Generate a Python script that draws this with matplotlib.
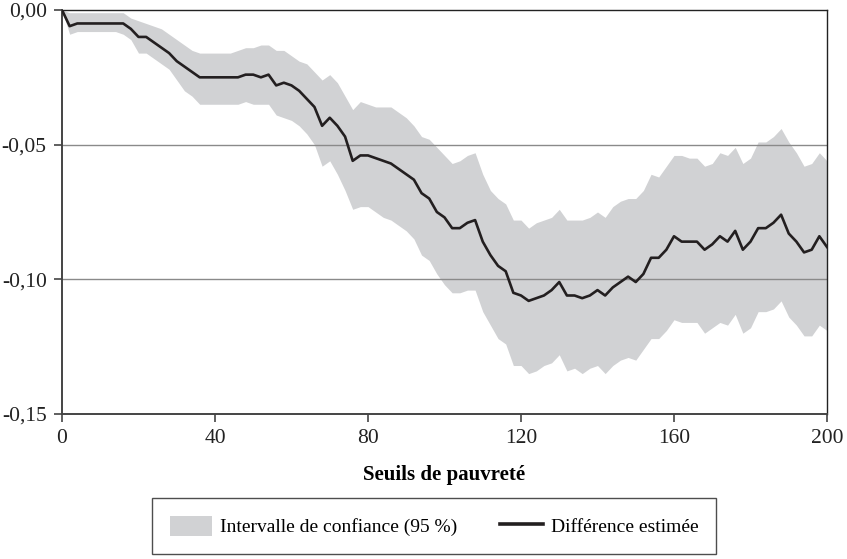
"""
Différence estimée et intervalle de confiance (95 %) selon le seuil de pauvreté.
"""

import matplotlib.pyplot as plt
from matplotlib.patches import Patch
from matplotlib.lines import Line2D

seuils = list(range(0, 201, 2))

difference = [
    0.000, -0.006, -0.005, -0.005, -0.005, -0.005, -0.005, -0.005, -0.005, -0.007,
    -0.010, -0.010, -0.012, -0.014, -0.016, -0.019, -0.021, -0.023, -0.025, -0.025,
    -0.025, -0.025, -0.025, -0.025, -0.024, -0.024, -0.025, -0.024, -0.028, -0.027,
    -0.028, -0.030, -0.033, -0.036, -0.043, -0.040, -0.043, -0.047, -0.056, -0.054,
    -0.054, -0.055, -0.056, -0.057, -0.059, -0.061, -0.063, -0.068, -0.070, -0.075,
    -0.077, -0.081, -0.081, -0.079, -0.078, -0.086, -0.091, -0.095, -0.097, -0.105,
    -0.106, -0.108, -0.107, -0.106, -0.104, -0.101, -0.106, -0.106, -0.107, -0.106,
    -0.104, -0.106, -0.103, -0.101, -0.099, -0.101, -0.098, -0.092, -0.092, -0.089,
    -0.084, -0.086, -0.086, -0.086, -0.089, -0.087, -0.084, -0.086, -0.082, -0.089,
    -0.086, -0.081, -0.081, -0.079, -0.076, -0.083, -0.086, -0.090, -0.089, -0.084,
    -0.088,
]

borne_sup = [
    0.000, -0.001, -0.001, -0.001, -0.001, -0.001, -0.001, -0.001, -0.001, -0.003,
    -0.004, -0.005, -0.006, -0.007, -0.009, -0.011, -0.013, -0.015, -0.016, -0.016,
    -0.016, -0.016, -0.016, -0.015, -0.014, -0.014, -0.013, -0.013, -0.015, -0.015,
    -0.017, -0.019, -0.020, -0.023, -0.026, -0.024, -0.027, -0.032, -0.037, -0.034,
    -0.035, -0.036, -0.036, -0.036, -0.038, -0.040, -0.043, -0.047, -0.048, -0.051,
    -0.054, -0.057, -0.056, -0.054, -0.053, -0.061, -0.067, -0.070, -0.072, -0.078,
    -0.078, -0.081, -0.079, -0.078, -0.077, -0.074, -0.078, -0.078, -0.078, -0.077,
    -0.075, -0.077, -0.073, -0.071, -0.070, -0.070, -0.067, -0.061, -0.062, -0.058,
    -0.054, -0.054, -0.055, -0.055, -0.058, -0.057, -0.053, -0.054, -0.051, -0.057,
    -0.055, -0.049, -0.049, -0.047, -0.044, -0.049, -0.053, -0.058, -0.057, -0.053,
    -0.056,
]

borne_inf = [
    0.000, -0.009, -0.008, -0.008, -0.008, -0.008, -0.008, -0.008, -0.009, -0.011,
    -0.016, -0.016, -0.018, -0.020, -0.022, -0.026, -0.030, -0.032, -0.035, -0.035,
    -0.035, -0.035, -0.035, -0.035, -0.034, -0.035, -0.035, -0.035, -0.039, -0.040,
    -0.041, -0.043, -0.046, -0.050, -0.058, -0.056, -0.061, -0.067, -0.074, -0.073,
    -0.073, -0.075, -0.077, -0.078, -0.080, -0.082, -0.085, -0.091, -0.093, -0.098,
    -0.102, -0.105, -0.105, -0.104, -0.104, -0.112, -0.117, -0.122, -0.124, -0.132,
    -0.132, -0.135, -0.134, -0.132, -0.131, -0.128, -0.134, -0.133, -0.135, -0.133,
    -0.132, -0.135, -0.132, -0.130, -0.129, -0.130, -0.126, -0.122, -0.122, -0.119,
    -0.115, -0.116, -0.116, -0.116, -0.120, -0.118, -0.116, -0.117, -0.113, -0.120,
    -0.118, -0.112, -0.112, -0.111, -0.108, -0.114, -0.117, -0.121, -0.121, -0.117,
    -0.119,
]

x_ticks = [0, 40, 80, 120, 160, 200]
y_ticks = [0.0, -0.05, -0.10, -0.15]
y_labels = ["0,00", "-0,05", "-0,10", "-0,15"]

plt.rcParams["font.family"] = ["Liberation Serif", "DejaVu Serif"]

BAND = "#d1d2d4"
LINE = "#231f20"
AXIS = "#444444"

fig = plt.figure(figsize=(8.47, 5.59), dpi=100)
ax = fig.add_axes([62 / 847, 1 - 414 / 559, 765 / 847, 404 / 559])

ax.fill_between(seuils, borne_inf, borne_sup, color=BAND, linewidth=0, zorder=1)
for y in (-0.05, -0.10):
    ax.axhline(y, color="#8a8a8a", linewidth=1.0, zorder=2)
ax.plot(seuils, difference, color=LINE, linewidth=1.9, zorder=3)

ax.set_xlim(0, 200)
ax.set_ylim(-0.15, 0.0)
ax.set_xticks(x_ticks)
ax.set_xticklabels([str(v) for v in x_ticks])
ax.set_yticks(y_ticks)
ax.set_yticklabels(y_labels)
ax.tick_params(direction="out", length=6, width=1.2, color=AXIS,
               labelsize=15.5, pad=5, labelcolor="#222222")

for side in ("left", "bottom"):
    ax.spines[side].set_color(AXIS)
    ax.spines[side].set_linewidth(1.4)
for side in ("top", "right"):
    ax.spines[side].set_color("#222222")
    ax.spines[side].set_linewidth(1.0)

ax.set_xlabel("Seuils de pauvreté", fontsize=15, fontweight="bold", labelpad=12)

handles = [
    Patch(facecolor=BAND, edgecolor="none", label="Intervalle de confiance (95 %)"),
    Line2D([], [], color=LINE, linewidth=2.6, label="Différence estimée"),
]
leg = fig.legend(
    handles=handles,
    loc="center",
    bbox_to_anchor=(434 / 847, 1 - 526 / 559),
    ncol=2,
    fontsize=14,
    frameon=True,
    fancybox=False,
    edgecolor="#222222",
    handlelength=2.2,
    handleheight=1.2,
    handletextpad=0.4,
    columnspacing=2.2,
    borderpad=0.9,
    borderaxespad=0,
)
leg.get_frame().set_linewidth(1.0)

fig.savefig("out.png", dpi=100)
